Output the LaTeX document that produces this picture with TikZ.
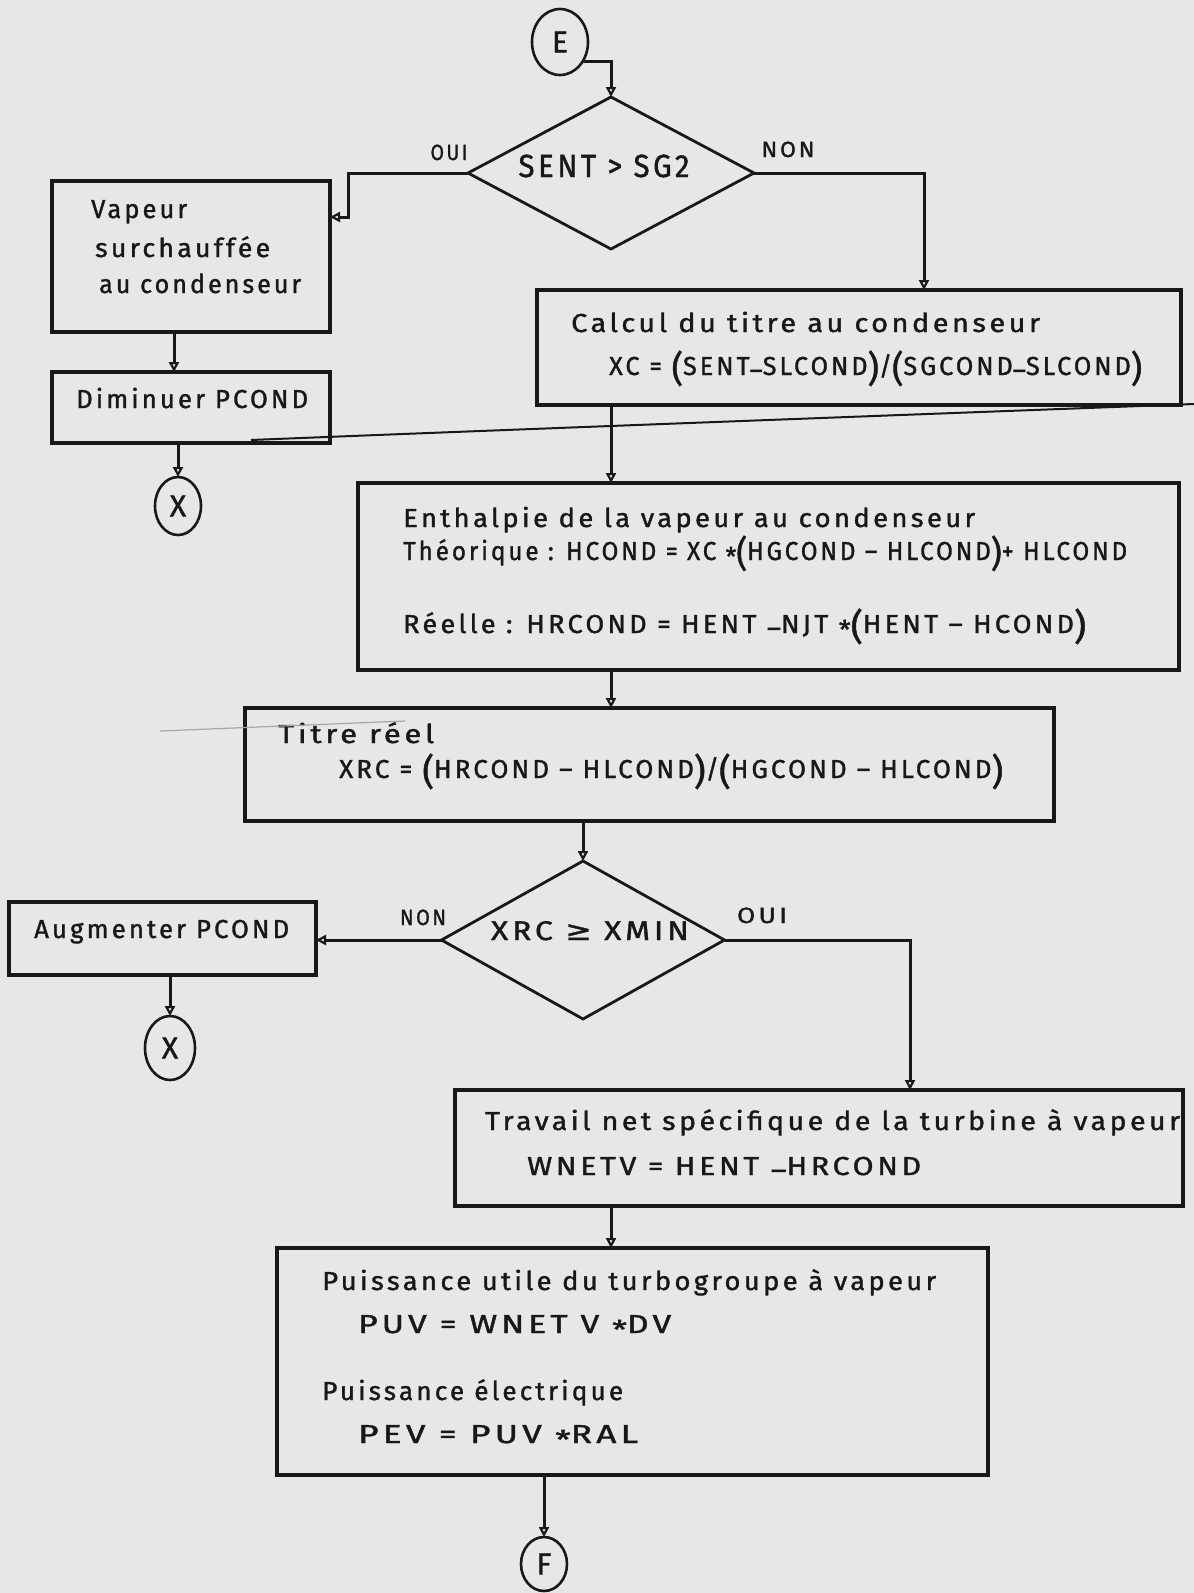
\documentclass[tikz,border=0pt]{standalone}
\usepackage{graphicx}
\usepackage{fontspec}
\setmainfont{Fira Sans}
\newfontfamily\hwfont{Fira Sans}[LetterSpace=12,FakeBold=1.3]
\newfontfamily\circfont{Fira Sans}[FakeBold=1.3]
\newfontfamily\symfont{DejaVu Sans}[FakeBold=1.3]
\usetikzlibrary{arrows.meta,shapes.geometric}

\definecolor{paper}{RGB}{231,231,229}
\definecolor{ink}{RGB}{24,24,24}

% set a line of lettering at a given width (horizontal scaling only)
\newsavebox\fitbox
\newcommand\fitto[2]{\sbox\fitbox{#2}\pgfmathsetmacro\fitsx{#1/\the\wd\fitbox}\scalebox{\fitsx}[1]{\usebox\fitbox}}
% tall hand-drawn brackets, lowered dash and star
\newcommand\LP{\raisebox{-6pt}{\fontsize{36}{36}\selectfont(}}
\newcommand\RP{\raisebox{-6pt}{\fontsize{36}{36}\selectfont)}}
\newcommand\lowm{\raisebox{-4pt}{–}}
\newcommand\st{\raisebox{-6pt}{*}}

\begin{document}
\begin{tikzpicture}[x=1pt,y=-1pt,
  box/.style={draw=ink, line width=3.2pt, rectangle, inner sep=0pt, outer sep=0pt},
  dia/.style={draw=ink, line width=2.8pt, diamond, inner sep=0pt, outer sep=0pt},
  conn/.style={draw=ink, line width=2.6pt, ellipse, inner sep=0pt, outer sep=0pt,
               font=\circfont\fontsize{30}{30}\selectfont, text=ink},
  arr/.style={draw=ink, line width=3pt,
              -{Triangle[open,length=10pt,width=10pt,line width=2.2pt]}},
  txt/.style={anchor=base west, inner sep=0pt, text=ink,
              font=\hwfont\fontsize{26}{30}\selectfont},
  ctxt/.style={txt, anchor=base},
  lbl/.style={anchor=base, inner sep=0pt, text=ink,
              font=\hwfont\fontsize{22}{24}\selectfont}]

\fill[paper] (0,0) rectangle (1194,1593);
\useasboundingbox (0,0) rectangle (1194,1593);

% ---- terminals and connectors (circles)
\node[conn, minimum width=56, minimum height=66] (E) at (560,42) {E};
\node[conn, minimum width=46, minimum height=58] (X1) at (178,506) {X};
\node[conn, minimum width=50, minimum height=64] (X2) at (170,1048) {X};
\node[conn, minimum width=46, minimum height=54] (F) at (544,1564) {F};

% ---- decisions
\node[dia, minimum width=286, minimum height=152] (d1) at (611,173) {};
\node[dia, minimum width=283, minimum height=158] (d2) at (583,940) {};

% ---- process boxes
\node[box, minimum width=278, minimum height=151] (vap)   at (191,256.5) {};
\node[box, minimum width=278, minimum height=71]  (dim)   at (191,407.5) {};
\node[box, minimum width=644, minimum height=115] (calc)  at (859,347.5) {};
\node[box, minimum width=821, minimum height=187] (enth)  at (768.5,576.5) {};
\node[box, minimum width=809, minimum height=113] (titre) at (649.5,764.5) {};
\node[box, minimum width=307, minimum height=73]  (aug)   at (162.5,938.5) {};
\node[box, minimum width=728, minimum height=116] (trav)  at (819,1148) {};
\node[box, minimum width=711, minimum height=227] (puis)  at (632.5,1361.5) {};

% ---- lettering
\node[ctxt, font=\hwfont\fontsize{32}{34}\selectfont] (t-d1) at (604,177) {\fitto{171}{SENT > SG2}};
\node[lbl] (t-oui1) at (449,160) {\fitto{37}{OUI}};
\node[lbl] (t-non1) at (788,157) {\fitto{53}{NON}};

\node[txt] (t-vap1) at (91,218) {\fitto{96}{Vapeur}};
\node[txt] (t-vap2) at (95,257) {\fitto{175}{surchauffée}};
\node[txt] (t-vap3) at (99,293) {\fitto{202}{au condenseur}};

\node[txt] (t-dim) at (76,408) {\fitto{232}{Diminuer PCOND}};

\node[txt] (t-calc1) at (571,332) {\fitto{469}{Calcul du titre au condenseur}};
\node[txt] (t-calc2) at (609,375) {\fitto{533}{XC = \LP SENT\lowm SLCOND\RP/\LP SGCOND\lowm SLCOND\RP}};

\node[txt] (t-enth1) at (403,527) {\fitto{572}{Enthalpie de la vapeur au condenseur}};
\node[txt] (t-enth2) at (403,560) {\fitto{724}{Théorique : HCOND = XC \st\LP HGCOND – HLCOND\RP + HLCOND}};
\node[txt] (t-enth3) at (403,633) {\fitto{683}{Réelle : HRCOND = HENT \lowm NJT \st \LP HENT – HCOND\RP}};

\node[txt] (t-tit1) at (278,743) {\fitto{156}{Titre réel}};
\node[txt] (t-tit2) at (339,778) {\fitto{664}{XRC = \LP HRCOND – HLCOND\RP/\LP HGCOND – HLCOND\RP}};

\node[ctxt, font=\hwfont\fontsize{27}{30}\selectfont] (t-d2) at (590,940) {\fitto{198}{XRC {\symfont ≥} XMIN}};
\node[lbl] (t-non2) at (423,925) {\fitto{46}{NON}};
\node[lbl] (t-oui2) at (762,923) {\fitto{50}{OUI}};

\node[txt] (t-aug) at (34,938) {\fitto{255}{Augmenter PCOND}};

\node[txt] (t-trav1) at (485,1130) {\fitto{695}{Travail net spécifique de la turbine à vapeur}};
\node[txt] (t-trav2) at (527,1175) {\fitto{394}{WNETV = HENT \lowm HRCOND}};

\node[txt] (t-puis1) at (322,1290) {\fitto{614}{Puissance utile du turbogroupe à vapeur}};
\node[txt] (t-puis2) at (358,1333) {\fitto{313}{PUV = WNET V \st DV}};
\node[txt] (t-puis3) at (322,1400) {\fitto{301}{Puissance électrique}};
\node[txt] (t-puis4) at (358,1443) {\fitto{280}{PEV = PUV \st RAL}};

% ---- flow lines
\draw[arr] (E.-40) -| (d1.north);
\coordinate (vapin) at ([yshift=39.5pt]vap.east);
\draw[arr] (d1.west) -| ([xshift=18pt]vapin) -- (vapin);
\draw[arr] (d1.east) -| ([xshift=65pt]calc.north);
\draw[arr] ([xshift=-17pt]vap.south) -- ([xshift=-17pt]dim.north);
\draw[arr] (X1.north |- dim.south) -- (X1.north);
\draw[arr] (d1.south |- calc.south) -- (d1.south |- enth.north);
\draw[arr] (d1.south |- enth.south) -- (d1.south |- titre.north);
\draw[arr] (d2.north |- titre.south) -- (d2.north);
\draw[arr] (d2.west) -- (d2.west -| aug.east);
\draw[arr] (d2.east) -| ([xshift=91pt]trav.north);
\draw[arr] (d1.south |- trav.south) -- (d1.south |- puis.north);
\draw[arr] (X2.north |- aug.south) -- (X2.north);
\draw[arr] (F.north |- puis.south) -- (F.north);

% ---- stray pen strokes on the sheet
\draw[ink, line width=2pt] (1194,404) .. controls (900,415) and (500,430) .. (251,440);
\draw[black!35, line width=1.2pt] (160,731) -- (405,721);
\end{tikzpicture}
\end{document}
